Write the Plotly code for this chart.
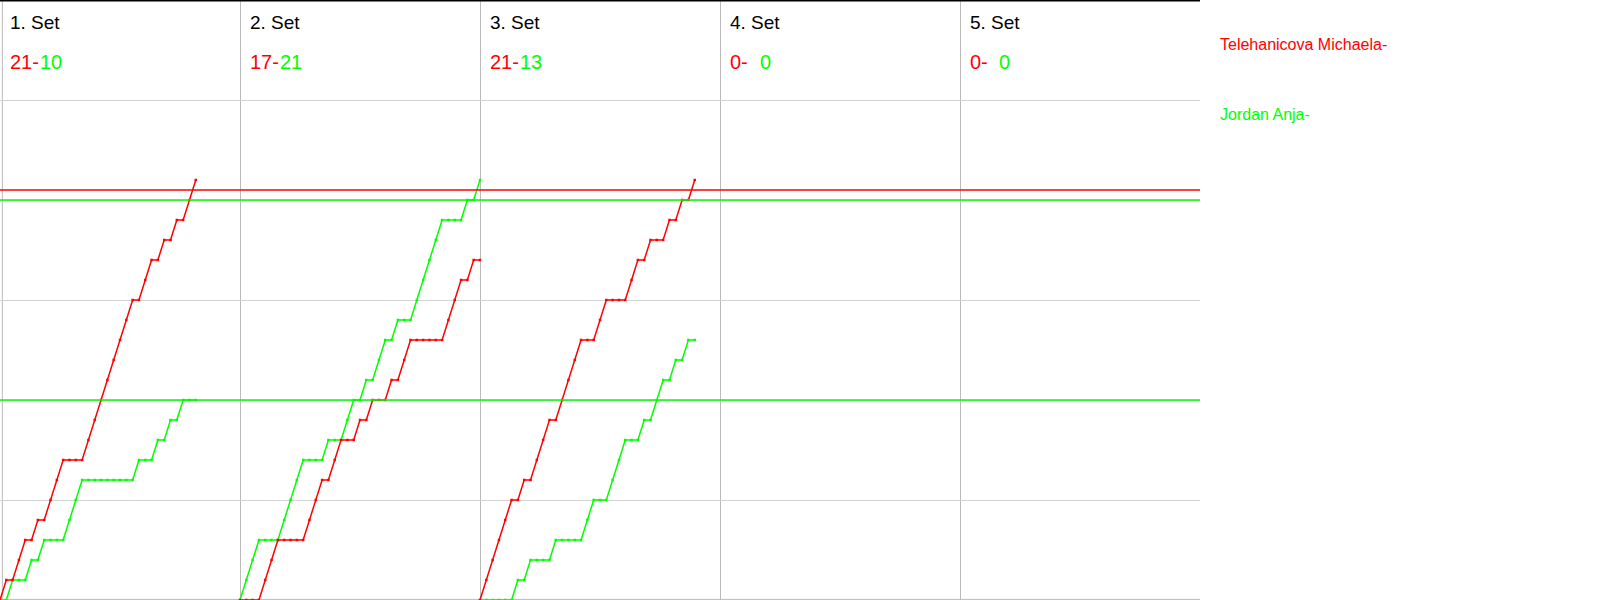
import plotly.graph_objects as go

# ---- data ----
set_titles = ["1. Set", "2. Set", "3. Set", "4. Set", "5. Set"]
set_scores_red = [21, 17, 21, 0, 0]
set_scores_green = [10, 21, 13, 0, 0]
player_red = "Telehanicova Michaela-"
player_green = "Jordan Anja-"

# cumulative score after each rally (index 0 = start of set)
set1_red = [0, 1, 1, 2, 3, 3, 4, 4, 5, 6, 7, 7, 7, 7, 8, 9, 10, 11, 12, 13, 14, 15,
            15, 16, 17, 17, 18, 18, 19, 19, 20, 21]
set1_green = [0, 0, 1, 1, 1, 2, 2, 3, 3, 3, 3, 4, 5, 6, 6, 6, 6, 6, 6, 6, 6, 6,
              7, 7, 7, 8, 8, 9, 9, 10, 10, 10]
set2_red = [0, 0, 0, 0, 1, 2, 3, 3, 3, 3, 3, 4, 5, 6, 6, 7, 8, 8, 8, 9, 9, 10, 10, 10,
            11, 11, 12, 13, 13, 13, 13, 13, 13, 14, 15, 16, 16, 17, 17]
set2_green = [0, 1, 2, 3, 3, 3, 3, 4, 5, 6, 7, 7, 7, 7, 8, 8, 8, 9, 10, 10, 11, 11, 12, 13,
              13, 14, 14, 14, 15, 16, 17, 18, 19, 19, 19, 19, 20, 20, 21]
set3_red = [0, 1, 2, 3, 4, 5, 5, 6, 6, 7, 8, 9, 9, 10, 11, 12, 13, 13, 13, 14, 15, 15, 15, 15,
            16, 17, 17, 18, 18, 18, 19, 19, 20, 20, 21]
set3_green = [0, 0, 0, 0, 0, 0, 1, 1, 2, 2, 2, 2, 3, 3, 3, 3, 3, 4, 5, 5, 5, 6, 7, 8,
              8, 8, 9, 9, 10, 11, 11, 12, 12, 13, 13]

sets_red = [set1_red, set2_red, set3_red, [], []]
sets_green = [set1_green, set2_green, set3_green, [], []]

rallies_per_panel = 38
max_points = 30
ref_red = [20.5]
ref_green = [20, 10]

RED = "#FF0000"
GREEN = "#00FF00"
FONT = "Arial, Liberation Sans, sans-serif"

fig = go.Figure()

for i, (r, g) in enumerate(zip(sets_red, sets_green)):
    off = i * rallies_per_panel
    for ys, col in ((g, GREEN), (r, RED)):
        if not ys:
            continue
        fig.add_trace(go.Scatter(
            x=[off + k for k in range(len(ys))], y=ys, mode="lines+markers",
            line=dict(color=col, width=1.5, shape="linear"),
            marker=dict(color=col, size=2.5, symbol="square", line=dict(width=0)),
            hoverinfo="skip", showlegend=False))

total_x = rallies_per_panel * len(set_titles)

shapes = []
for v in ref_green:
    shapes.append(dict(type="line", xref="x", yref="y", x0=0, x1=total_x, y0=v, y1=v,
                       line=dict(color=GREEN, width=1.3), layer="above"))
for v in ref_red:
    shapes.append(dict(type="line", xref="x", yref="y", x0=0, x1=total_x, y0=v, y1=v,
                       line=dict(color=RED, width=1.3), layer="above"))
# frame
shapes.append(dict(type="line", xref="paper", yref="paper", x0=0.002, x1=0.002, y0=0, y1=1,
                   line=dict(color="#BBBBBB", width=1), layer="below"))
shapes.append(dict(type="line", xref="paper", yref="paper", x0=0, x1=1, y0=0.001, y1=0.001,
                   line=dict(color="#BBBBBB", width=1), layer="below"))
shapes.append(dict(type="line", xref="paper", yref="paper", x0=0, x1=1, y0=0.999, y1=0.999,
                   line=dict(color="black", width=2), layer="above"))

annotations = []
for i, t in enumerate(set_titles):
    x0 = (i * 240 + 8) / 1200
    annotations.append(dict(text=t, xref="paper", yref="paper", x=x0, y=1 - 22.5 / 600,
                            xanchor="left", yanchor="middle", showarrow=False,
                            font=dict(family=FONT, size=19, color="black")))
    annotations.append(dict(text=f"{set_scores_red[i]}-", xref="paper", yref="paper",
                            x=x0, y=1 - 62 / 600, xanchor="left", yanchor="middle",
                            showarrow=False, font=dict(family=FONT, size=20, color=RED)))
    annotations.append(dict(text=f"{set_scores_green[i]}",
                            xref="paper", yref="paper",
                            x=x0 + 29.5 / 1200, y=1 - 62 / 600, xanchor="left", yanchor="middle",
                            showarrow=False, font=dict(family=FONT, size=20, color=GREEN)))

annotations.append(dict(text=player_red, xref="paper", yref="paper", x=1218 / 1200,
                        y=1 - 44 / 600, xanchor="left", yanchor="middle", showarrow=False,
                        font=dict(family=FONT, size=16, color=RED)))
annotations.append(dict(text=player_green, xref="paper", yref="paper", x=1218 / 1200,
                        y=1 - 114.5 / 600, xanchor="left", yanchor="middle", showarrow=False,
                        font=dict(family=FONT, size=16, color=GREEN)))

fig.update_layout(
    width=1600, height=600,
    margin=dict(l=0, r=400, t=0, b=0),
    paper_bgcolor="white", plot_bgcolor="white",
    showlegend=False,
    xaxis=dict(range=[0, total_x], tick0=0, dtick=rallies_per_panel, showgrid=True,
               gridcolor="#BBBBBB", gridwidth=1, zeroline=False, showticklabels=False,
               ticks="", showline=False, fixedrange=True),
    yaxis=dict(range=[0, max_points], tick0=0, dtick=5, showgrid=True,
               gridcolor="#D3D3D3", gridwidth=1, zeroline=False, showticklabels=False,
               ticks="", showline=False, fixedrange=True),
    shapes=shapes, annotations=annotations,
)

fig.write_html("out.html", config={"displayModeBar": False},
               post_script="document.body.style.margin='0';document.body.style.overflow='hidden';")
